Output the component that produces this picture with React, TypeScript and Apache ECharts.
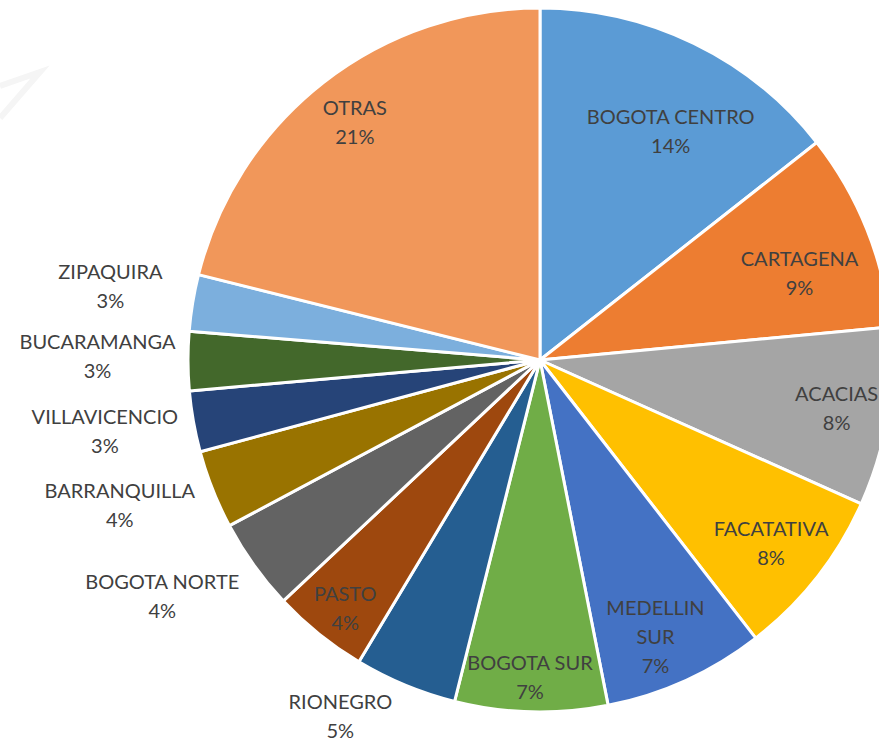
import React, { useEffect, useRef } from "react";
import * as echarts from "echarts";

const categories = [
  "BOGOTA CENTRO",
  "CARTAGENA",
  "ACACIAS",
  "FACATATIVA",
  "MEDELLIN SUR",
  "BOGOTA SUR",
  "RIONEGRO",
  "PASTO",
  "BOGOTA NORTE",
  "BARRANQUILLA",
  "VILLAVICENCIO",
  "BUCARAMANGA",
  "ZIPAQUIRA",
  "OTRAS",
];
const shares = [14.4, 9.1, 8.2, 7.8, 7.4, 7.0, 4.7, 4.4, 4.2, 3.6, 2.8, 2.7, 2.6, 21.1];
const colors = [
  "#5B9BD5", "#ED7D31", "#A5A5A5", "#FFC000", "#4472C4", "#70AD47", "#255E91",
  "#9E480E", "#636363", "#997300", "#264478", "#43682B", "#7CAFDD", "#F1975A",
];
// label layout only: distance from centre (fraction of radius) and a small nudge in px
const labelRadius: Record<string, number> = {
  "BOGOTA CENTRO": 0.75,
  CARTAGENA: 0.77,
  ACACIAS: 0.86,
  FACATATIVA: 0.83,
  "MEDELLIN SUR": 0.79,
  "BOGOTA SUR": 0.9,
  RIONEGRO: 1.11,
  PASTO: 0.9,
  "BOGOTA NORTE": 1.27,
  BARRANQUILLA: 1.26,
  VILLAVICENCIO: 1.25,
  BUCARAMANGA: 1.26,
  ZIPAQUIRA: 1.24,
  OTRAS: 0.86,
};
const labelNudge: Record<string, [number, number]> = {
  "BOGOTA CENTRO": [14, 11],
  CARTAGENA: [5, 14],
  ACACIAS: [-5, -2],
  FACATATIVA: [-1, 0],
  "MEDELLIN SUR": [-1, 20],
  "BOGOTA SUR": [-2, -3],
  RIONEGRO: [-49, -8],
  PASTO: [6, -1],
  "BOGOTA NORTE": [-12, -27],
  BARRANQUILLA: [-5, -20],
  VILLAVICENCIO: [1, -7],
  BUCARAMANGA: [4, -6],
  ZIPAQUIRA: [4, -3],
  OTRAS: [3, 2],
};
const displayNames: Record<string, string> = { "MEDELLIN SUR": "MEDELLIN\nSUR" };

export default function App() {
  const ref = useRef<HTMLDivElement>(null);
  useEffect(() => {
    document.body.style.margin = "0";
    if (!ref.current) return;
    const chart = echarts.init(ref.current, undefined, { renderer: "svg" });
    const R = 352;
    const C = [540, 360];
    const fmt = (p: any) => `${displayNames[p.name] ?? p.name}\n${Math.round(p.percent)}%`;
    const labelStyle = {
      color: "#404040",
      fontFamily: "Lato, 'Open Sans', sans-serif",
      fontSize: 20,
      lineHeight: 29,
      align: "center" as const,
    };
    const mainData = categories.map((n, i) => ({ name: n, value: shares[i], itemStyle: { color: colors[i] } }));
    const ratios = Array.from(new Set(categories.map((n) => labelRadius[n])));
    const labelSeries = ratios.map((r) => ({
      type: "pie",
      center: C,
      radius: [R * (r - 0.1), R * (r + 0.1)],
      startAngle: 90,
      clockwise: true,
      data: categories.map((n, i) => ({
        name: n,
        value: shares[i],
        label: { show: labelRadius[n] === r },
      })),
      itemStyle: { color: "rgba(0,0,0,0)", borderWidth: 0 },
      label: { position: "inside", formatter: fmt, ...labelStyle },
      labelLine: { show: false },
      labelLayout: (params: any) => {
        const nudge = labelNudge[categories[params.dataIndex]] || [0, 0];
        return { dx: nudge[0], dy: nudge[1] };
      },
      silent: true,
      z: 3,
    }));
    chart.setOption({
      animation: false,
      graphic: [
        {
          type: "polyline",
          shape: { points: [[0, 118], [40, 72], [0, 86]] },
          style: { stroke: "#f5f5f5", lineWidth: 6, fill: "none" },
          silent: true,
        },
      ],
      series: [
        {
          type: "pie",
          center: C,
          radius: [0, R],
          startAngle: 90,
          clockwise: true,
          data: mainData,
          label: { show: false },
          labelLine: { show: false },
          itemStyle: { borderColor: "#ffffff", borderWidth: 3 },
          silent: true,
        },
        ...labelSeries,
      ],
    });
    return () => chart.dispose();
  }, []);
  return <div ref={ref} style={{ width: 879, height: 747 }} />;
}
